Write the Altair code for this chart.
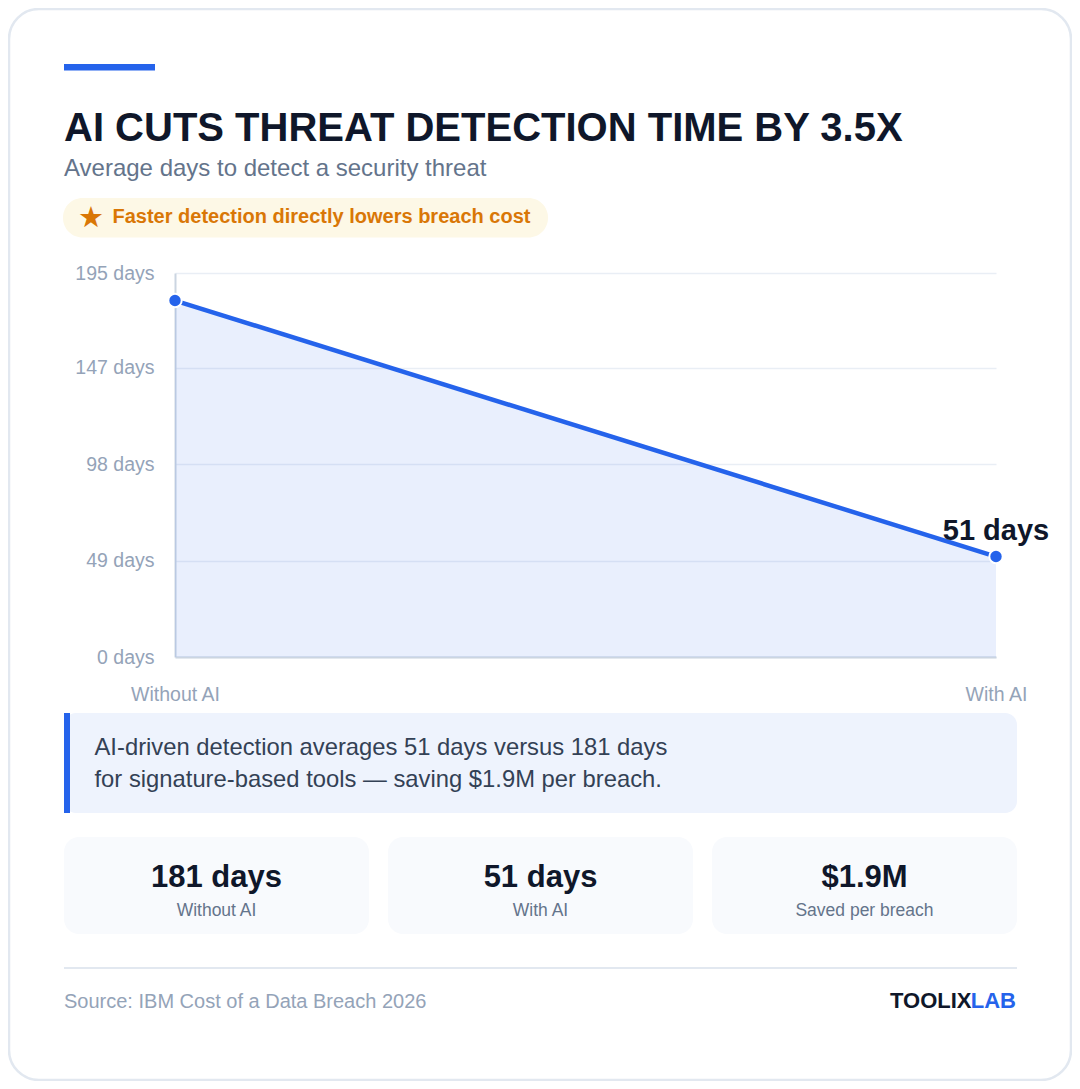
import altair as alt
import pandas as pd

# ---------------- data ----------------
categories = ["Without AI", "With AI"]
days = [181, 51]
y_ticks = [0, 49, 98, 147, 195]
stat_values = ["181 days", "51 days", "$1.9M"]
stat_labels = ["Without AI", "With AI", "Saved per breach"]

title = "AI CUTS THREAT DETECTION TIME BY 3.5X"
subtitle = "Average days to detect a security threat"
badge = "Faster detection directly lowers breach cost"
callout = [
    "AI-driven detection averages 51 days versus 181 days",
    "for signature-based tools \u2014 saving $1.9M per breach.",
]
source = "Source: IBM Cost of a Data Breach 2026"
brand_a, brand_b = "TOOLIX", "LAB"

FONT = "Liberation Sans"
BLUE = "#2563eb"
DARK = "#0f172a"
SLATE = "#64748b"
MUTED = "#94a3b8"

# plot area placement in page pixels
PX0, PY0 = 175, 273
PW, PH = 821, 384
TOTAL_W, TOTAL_H = 1064, 1073


def X(px):
    return px - PX0


def Y(py):
    return py - PY0


one = alt.Data(values=[{"k": 1}])


def rect(x0, y0, x1, y1, **kw):
    return alt.Chart(one).mark_rect(**kw).encode(
        x=alt.value(X(x0)), x2=alt.value(X(x1)), y=alt.value(Y(y0)), y2=alt.value(Y(y1))
    )


def txt(s, x, y, **kw):
    kw.setdefault("font", FONT)
    kw.setdefault("baseline", "alphabetic")
    kw.setdefault("align", "left")
    return alt.Chart(one).mark_text(text=s, **kw).encode(x=alt.value(X(x)), y=alt.value(Y(y)))


df = pd.DataFrame({"group": categories, "days": days})

x_enc = alt.X(
    "group:N",
    sort=categories,
    scale=alt.Scale(type="point", padding=0),
    axis=alt.Axis(
        title=None, labelAngle=0, labelColor=MUTED, labelFontSize=19.5, labelFont=FONT,
        labelPadding=28, ticks=False, domainColor="#cbd5e1", domainWidth=2, grid=False,
    ),
)
y_enc = alt.Y(
    "days:Q",
    scale=alt.Scale(domain=[0, 195], nice=False, zero=True),
    axis=alt.Axis(
        title=None, values=y_ticks, labelExpr="datum.value + ' days'", labelColor=MUTED,
        labelFontSize=19.5, labelFont=FONT, labelPadding=21, ticks=False,
        domainColor="#cbd5e1", domainWidth=2, gridColor="#e9eef5", gridWidth=1.5,
    ),
)

base = alt.Chart(df).encode(x=x_enc, y=y_enc)
area = base.mark_area(color=BLUE, opacity=0.1)
line = base.mark_line(color=BLUE, strokeWidth=4.5)
points = base.mark_circle(size=180, color=BLUE, stroke="white", strokeWidth=2, opacity=1)
end_label = (
    base.transform_filter(alt.datum.group == categories[-1])
    .transform_calculate(lbl="datum.days + ' days'")
    .mark_text(font=FONT, fontSize=29, fontWeight="bold", color=DARK, dy=-17,
               align="center", baseline="alphabetic")
    .encode(text="lbl:N")
)

layers = []
# card frame
layers.append(rect(9, 9, 1071, 1080, fill="white", fillOpacity=0, stroke="#e2e8f0",
                   strokeWidth=2.5, cornerRadius=30))
# header
layers.append(rect(64, 64, 155, 70.5, fill=BLUE))
layers.append(txt(title, 64, 141, fontSize=40, fontWeight="bold", color=DARK))
layers.append(txt(subtitle, 64, 176, fontSize=24, color=SLATE))
layers.append(rect(63, 198, 548, 237.5, fill="#fdf8e6", cornerRadius=19.5))
layers.append(txt("\u2605", 91, 217.5, fontSize=29, color="#d97706", font="DejaVu Sans",
                  align="center", baseline="middle"))
layers.append(txt(badge, 112.5, 222.5, fontSize=20, fontWeight="bold", color="#d97706"))

# chart
layers += [area, line, points, end_label]

# callout
layers.append(rect(64, 713, 1017, 813, fill="#eef3fd", cornerRadius=12))
layers.append(rect(64, 713, 70, 813, fill=BLUE))
layers.append(txt(callout[0], 94.5, 754.5, fontSize=23.8, color="#334155"))
layers.append(txt(callout[1], 94.5, 786.5, fontSize=23.8, color="#334155"))

# stat cards
card_x0, card_w, card_gap = 64, 305, 19
for i, (v, l) in enumerate(zip(stat_values, stat_labels)):
    x0 = card_x0 + i * (card_w + card_gap)
    layers.append(rect(x0, 837, x0 + card_w, 934, fill="#f8fafd", cornerRadius=15))
    cx = x0 + card_w / 2
    layers.append(txt(v, cx, 886.5, fontSize=31, fontWeight="bold", color=DARK, align="center"))
    layers.append(txt(l, cx, 916, fontSize=17.5, color=SLATE, align="center"))

# footer
layers.append(rect(64, 967, 1017, 969, fill="#e2e8f0"))
layers.append(txt(source, 64, 1008, fontSize=20, color=MUTED))
layers.append(txt(brand_b, 1016, 1007.5, fontSize=22, fontWeight="bold", color=BLUE, align="right"))
layers.append(txt(brand_a, 971.5, 1007.5, fontSize=22, fontWeight="bold", color=DARK, align="right"))

chart = (
    alt.layer(*layers)
    .properties(
        width=PW,
        height=PH,
        autosize=alt.AutoSizeParams(type="none"),
        padding={"left": PX0 - 8, "top": PY0 - 8,
                 "right": TOTAL_W - (PX0 - 8) - PW, "bottom": TOTAL_H - (PY0 - 8) - PH},
        background="white",
    )
    .configure_view(strokeWidth=0)
)

chart.save("out.html", embed_options={"renderer": "svg", "actions": False})
